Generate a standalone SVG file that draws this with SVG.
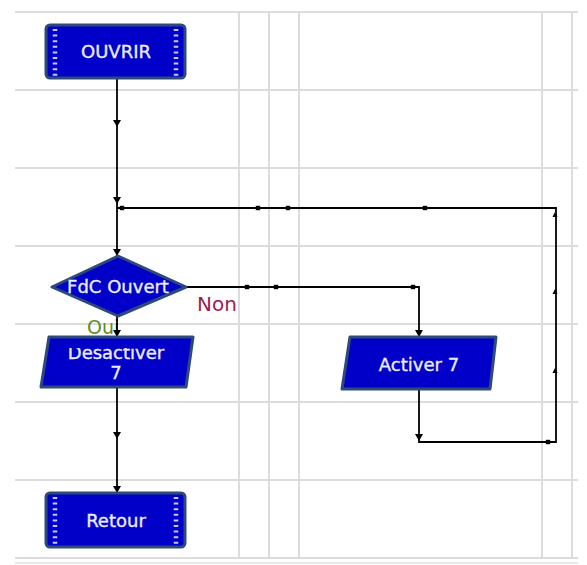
<svg xmlns="http://www.w3.org/2000/svg" xmlns:xlink="http://www.w3.org/1999/xlink" width="587" height="565" viewBox="0 0 587 565">
<style>
.grid line{stroke:#dcdcdc;stroke-width:2}
.node{fill:#0000c8;stroke:#2e4a7a;stroke-width:3;stroke-linejoin:round}
.dots{stroke:#c8c8ff;stroke-width:4.5;stroke-dasharray:2 3.6}
.lbl{font-family:"DejaVu Sans","Verdana",sans-serif;font-size:18px;fill:#ececff;stroke:#ececff;stroke-width:0.35;text-anchor:middle}
.wire{fill:none;stroke:#000;stroke-width:1.8}
.dot{fill:#000}
</style>
<defs>
<path id="ad" d="M-4,-6 L4,-6 L0,1 Z" fill="#000"/>
<path id="au" d="M-2.5,3 L2.5,3 L0,-2 Z" fill="#000"/>
<rect id="sq" x="-2.2" y="-2.2" width="4.4" height="4.4" fill="#000"/>
<clipPath id="clipDes"><rect x="30" y="348" width="170" height="45"/></clipPath>
</defs>
<rect width="587" height="565" fill="#fff"/>
<g class="grid">
<line x1="15" y1="12" x2="578" y2="12"/>
<line x1="15" y1="90" x2="578" y2="90"/>
<line x1="15" y1="168" x2="578" y2="168"/>
<line x1="15" y1="246" x2="578" y2="246"/>
<line x1="15" y1="324" x2="578" y2="324"/>
<line x1="15" y1="402" x2="578" y2="402"/>
<line x1="15" y1="480" x2="578" y2="480"/>
<line x1="15" y1="558" x2="578" y2="558"/>
<line x1="15" y1="563" x2="578" y2="563" style="stroke:#e8e8e8"/>
<line x1="239" y1="12" x2="239" y2="558"/>
<line x1="269" y1="12" x2="269" y2="558"/>
<line x1="299" y1="12" x2="299" y2="558"/>
<line x1="542" y1="12" x2="542" y2="558"/>
<line x1="572" y1="12" x2="572" y2="558"/>
</g>
<g id="labels">
<text x="197" y="311" font-family="DejaVu Sans, Verdana, sans-serif" font-size="20" fill="#9e1a4c">Non</text>
<text x="87" y="334" font-family="DejaVu Sans, Verdana, sans-serif" font-size="19" fill="#5a8c1e">Oui</text>
</g>
<g id="connectors">
<path class="wire" d="M117,78 L117,256"/>
<path class="wire" d="M419,389 L419,442 L556,442 L556,208 L117,208"/>
<path class="wire" d="M186,287 L419,287 L419,337"/>
<path class="wire" d="M117,316 L117,337"/>
<path class="wire" d="M117,387 L117,493"/>
<use xlink:href="#ad" x="117" y="126"/>
<use xlink:href="#ad" x="117" y="203"/>
<use xlink:href="#ad" x="117" y="255"/>
<use xlink:href="#ad" x="117" y="336"/>
<use xlink:href="#ad" x="117" y="438"/>
<use xlink:href="#ad" x="117" y="492"/>
<use xlink:href="#ad" x="419" y="336"/>
<use xlink:href="#ad" x="419" y="440"/>
<use xlink:href="#au" x="555" y="214"/>
<use xlink:href="#au" x="555" y="291"/>
<use xlink:href="#au" x="555" y="370"/>
<use xlink:href="#sq" x="122" y="208"/>
<use xlink:href="#sq" x="258" y="208"/>
<use xlink:href="#sq" x="288" y="208"/>
<use xlink:href="#sq" x="425" y="208"/>
<use xlink:href="#sq" x="247" y="287"/>
<use xlink:href="#sq" x="276" y="287"/>
<use xlink:href="#sq" x="413" y="287"/>
<use xlink:href="#sq" x="548" y="442"/>
</g>
<g id="ouvrir">
<rect class="node" x="46" y="25" width="139" height="53" rx="4"/>
<line class="dots" x1="55" y1="29" x2="55" y2="76"/>
<line class="dots" x1="176" y1="29" x2="176" y2="76"/>
<text class="lbl" x="116" y="58">OUVRIR</text>
</g>
<g id="fdc">
<path class="node" d="M52,287 L118,256 L186,287 L118,316 Z"/>
<text class="lbl" x="118" y="293">FdC Ouvert</text>
</g>
<g id="desactiver">
<path class="node" d="M49,337 L193,337 L186,387 L41,387 Z"/>
<g clip-path="url(#clipDes)">
<text class="lbl" x="116" y="359">Desactiver</text>
<text class="lbl" x="116" y="379">7</text>
</g>
</g>
<g id="activer">
<path class="node" d="M350,337 L496,337 L490,389 L342,389 Z"/>
<text class="lbl" x="419" y="371">Activer 7</text>
</g>
<g id="retour">
<rect class="node" x="46" y="493" width="139" height="54" rx="4"/>
<line class="dots" x1="55" y1="497" x2="55" y2="545"/>
<line class="dots" x1="176" y1="497" x2="176" y2="545"/>
<text class="lbl" x="116" y="527">Retour</text>
</g>
</svg>
